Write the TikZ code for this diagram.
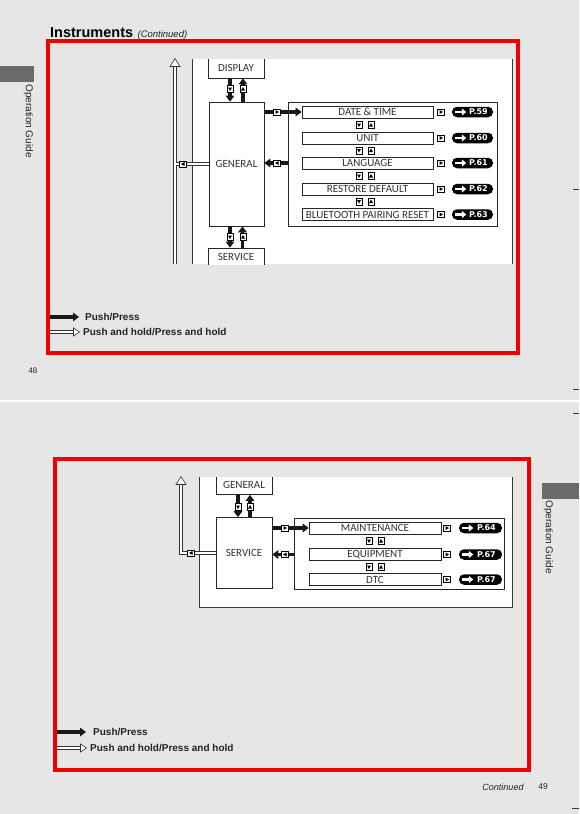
\documentclass[tikz,border=0pt]{standalone}
\usepackage{fontspec}
\setmainfont{Liberation Sans}
\newfontfamily\labfont{Carlito}
\newfontfamily\badgefont{DejaVu Sans}
\usetikzlibrary{arrows.meta}
\definecolor{bgc}{HTML}{E6E6E6}
\definecolor{tabc}{HTML}{6B6B6B}
\definecolor{framered}{HTML}{F00000}
\definecolor{linec}{HTML}{3A3A3A}
\definecolor{txtc}{HTML}{222222}
\begin{document}
\begin{tikzpicture}[x=1pt,y=-1pt,
  box/.style={draw=black!85, line width=0.7pt, fill=white, inner sep=0pt,
    font=\labfont\fontsize{11}{12}\selectfont, text=black!80},
  item/.style={box, minimum width=131pt, minimum height=12pt},
  menubox/.style={draw=black!85, line width=0.8pt, fill=white, inner sep=0pt},
  push/.style={draw=black!90, line width=3.2pt, -{Triangle[length=6pt,width=8.5pt]}},
  hold/.style={draw=black!80, line width=0.6pt, double=white, double distance=2.4pt},
  holdhead/.style={draw=black!80, fill=white, line width=0.6pt},
  legend/.style={inner sep=0pt, font=\bfseries\fontsize{10}{12}\selectfont, text=txtc},
  badge/.style={fill=black, rounded corners=5pt, minimum width=41pt, minimum height=10.5pt,
    inner sep=0pt, text=white, font=\badgefont\bfseries\fontsize{8}{9}\selectfont},
  badgearrow/.style={draw=white, line width=2.6pt, -{Triangle[length=4.5pt,width=7pt]}},
  icbox/.style={draw=black, fill=white, line width=0.6pt},
  icR/.pic={\draw[icbox] (-3.4,-3.2) rectangle (3.4,3.2); \fill (-1.5,-2) -- (2,0) -- (-1.5,2) -- cycle;},
  icL/.pic={\draw[icbox] (-3.4,-3.2) rectangle (3.4,3.2); \fill (1.5,-2) -- (-2,0) -- (1.5,2) -- cycle;},
  icD/.pic={\draw[icbox] (-3.2,-3.4) rectangle (3.2,3.4); \fill (-2,-1.5) -- (2,-1.5) -- (0,2) -- cycle;},
  icU/.pic={\draw[icbox] (-3.2,-3.4) rectangle (3.2,3.4); \fill (-2,1.5) -- (2,1.5) -- (0,-2) -- cycle;}
]
\useasboundingbox (0,0) rectangle (579,814);
\fill[bgc] (0,0) rectangle (579,814);
% page separator and edge ticks
\draw[white, line width=1.2pt] (0,401) -- (579,401);
\draw[linec, line width=0.6pt] (573,189) -- (579,189);
\draw[linec, line width=0.6pt] (573,389) -- (579,389);
\draw[linec, line width=0.6pt] (573,413) -- (579,413);
\draw[linec, line width=0.6pt] (572,808) -- (579,808);

% ---------------- page 48 ----------------
\node[anchor=base west, inner sep=0pt, text=black, font=\bfseries\fontsize{14.5}{16}\selectfont] (title) at (50,37) {Instruments};
\node[anchor=base west, inner sep=0pt, text=txtc, font=\itshape\fontsize{9.5}{11}\selectfont] (cont1) at ([xshift=4pt]title.base east) {(Continued)};
\fill[tabc] (0,66) rectangle (34,82);
\node[rotate=-90, inner sep=0pt, text=txtc, font=\fontsize{10}{12}\selectfont] (og1) at (28.5,121) {Operation Guide};
\node[inner sep=0pt, text=txtc, font=\fontsize{8}{10}\selectfont] (p48) at (33,371) {48};

\fill[white] (192,59) rectangle (512,264);
\draw[linec, line width=0.8pt] (192,59) -- (192,264);
\draw[linec, line width=0.8pt] (512,59) -- (512,264);

\begin{scope}
\clip (192,59) rectangle (512,264);
\node[box, minimum width=56pt, minimum height=21pt] (disp) at (236,67.5) {DISPLAY};
\node[box, minimum width=55pt, minimum height=124pt] (gen) at (236.5,164) {GENERAL};
\node[box, minimum width=56pt, minimum height=18pt] (serv) at (236,257) {SERVICE};
\end{scope}

\node[menubox, minimum width=209pt, minimum height=124pt] (menu) at (392.5,164) {};
\foreach \yy/\nm/\txt/\pg in {112/d1/{DATE \& TIME}/59, 138/d2/UNIT/60, 163/d3/LANGUAGE/61, 189/d4/{RESTORE DEFAULT}/62, 214.5/d5/{BLUETOOTH PAIRING RESET}/63}{
  \node[item] (\nm) at (367.5,\yy) {\txt};
  \pic at (441,\yy) {icR};
  \node[badge] (b\nm) at (472.5,\yy) {\hspace*{12pt}P.\pg};
  \draw[badgearrow] ([xshift=3.5pt]b\nm.west) -- ++(11,0);
}
\foreach \yy in {125,150.5,176,201.5}{
  \pic at (359,\yy) {icD};
  \pic at (371,\yy) {icU};
}

% vertical arrows
\draw[push] ([xshift=-6pt]disp.south) -- ([xshift=-6pt]disp.south |- gen.north);
\draw[push] ([xshift=6.5pt]gen.north) -- ([xshift=6.5pt]gen.north |- disp.south);
\pic at (230,89) {icD};
\pic at (243,89) {icU};
\draw[push] ([xshift=-6.5pt]gen.south) -- ([xshift=-6.5pt]gen.south |- serv.north);
\draw[push] ([xshift=6.5pt]serv.north) -- ([xshift=6.5pt]serv.north |- gen.south);
\pic at (230,237) {icD};
\pic at (243,237) {icU};
% horizontal arrows
\draw[push] (gen.east |- d1.west) -- (d1.west);
\pic at (277,112) {icR};
\draw[push] (menu.west |- d3.west) -- (gen.east |- d3.west);
\pic at (277,163) {icL};

% push-and-hold path
\coordinate (vtop) at (175,66);
\coordinate (vbot) at (175,264);
\coordinate (vjoin) at (176.2,164);
\draw[hold] (vbot) -- (vtop);
\draw[holdhead] (170,66.5) -- (175,58.5) -- (180,66.5) -- cycle;
\draw[hold] (gen.west) -- (vjoin);
\pic at (183,164) {icL};

% legend
\coordinate (la1) at (50,317);
\coordinate (lb1) at (79,317);
\draw[push] (la1) -- (lb1);
\node[legend, anchor=west] (lt1) at (85,316.5) {Push/Press};
\coordinate (lc1) at (50,332);
\coordinate (ld1) at (74,332);
\draw[hold] (lc1) -- (ld1);
\draw[holdhead] (73.5,328) -- (79.5,332) -- (73.5,336) -- cycle;
\node[legend, anchor=west] (lh1) at (83,331.5) {Push and hold/Press and hold};

\draw[framered, line width=4pt] (48,41) rectangle (518,353);

% ---------------- page 49 ----------------
\fill[tabc] (542,483) rectangle (579,499);
\node[rotate=-90, inner sep=0pt, text=txtc, font=\fontsize{10}{12}\selectfont] (og2) at (548.5,537) {Operation Guide};
\node[inner sep=0pt, text=txtc, font=\itshape\fontsize{9}{10}\selectfont] (cont2) at (503,787) {Continued};
\node[inner sep=0pt, text=txtc, font=\fontsize{8.5}{10}\selectfont] (p49) at (543,787) {49};

\fill[white] (199,477) rectangle (512,607);
\draw[linec, line width=0.8pt] (199,477) -- (199,607) -- (512,607) -- (512,477);

\begin{scope}
\clip (199,477) rectangle (512,607);
\node[box, minimum width=56pt, minimum height=19pt] (gen2) at (244,485) {GENERAL};
\end{scope}
\node[box, minimum width=56pt, minimum height=71pt] (serv2) at (244,553) {SERVICE};
\node[menubox, minimum width=210pt, minimum height=71pt] (menu2) at (399,553.5) {};
\foreach \yy/\nm/\txt/\pg in {528/e1/MAINTENANCE/64, 554.5/e2/EQUIPMENT/67, 579.5/e3/DTC/67}{
  \node[item, minimum width=132pt] (\nm) at (375,\yy) {\txt};
  \pic at (447,\yy) {icR};
  \node[badge, minimum width=43pt] (b\nm) at (480.5,\yy) {\hspace*{12pt}P.\pg};
  \draw[badgearrow] ([xshift=3.5pt]b\nm.west) -- ++(11,0);
}
\foreach \yy in {541,567}{
  \pic at (369,\yy) {icD};
  \pic at (381,\yy) {icU};
}
\draw[push] ([xshift=-6pt]gen2.south) -- ([xshift=-6pt]gen2.south |- serv2.north);
\draw[push] ([xshift=6pt]serv2.north) -- ([xshift=6pt]serv2.north |- gen2.south);
\pic at (238,507) {icD};
\pic at (250,507) {icU};
\draw[push] (serv2.east |- e1.west) -- (e1.west);
\pic at (285,528) {icR};
\draw[push] (menu2.west |- e2.west) -- (serv2.east |- e2.west);
\pic at (285,554.5) {icL};

\coordinate (wtop) at (181,484);
\coordinate (wcorner) at (181,553);
\draw[hold] (serv2.west) -- (wcorner) -- (wtop);
\draw[holdhead] (176,484.5) -- (181,476.5) -- (186,484.5) -- cycle;
\pic at (191,553) {icL};

\coordinate (la2) at (57,732);
\coordinate (lb2) at (86,732);
\draw[push] (la2) -- (lb2);
\node[legend, anchor=west] (lt2) at (93,731.5) {Push/Press};
\coordinate (lc2) at (57,748);
\coordinate (ld2) at (81,748);
\draw[hold] (lc2) -- (ld2);
\draw[holdhead] (80.5,744) -- (86.5,748) -- (80.5,752) -- cycle;
\node[legend, anchor=west] (lh2) at (90,747.5) {Push and hold/Press and hold};

\draw[framered, line width=4pt] (55,459) rectangle (528.5,770);
\end{tikzpicture}
\end{document}
